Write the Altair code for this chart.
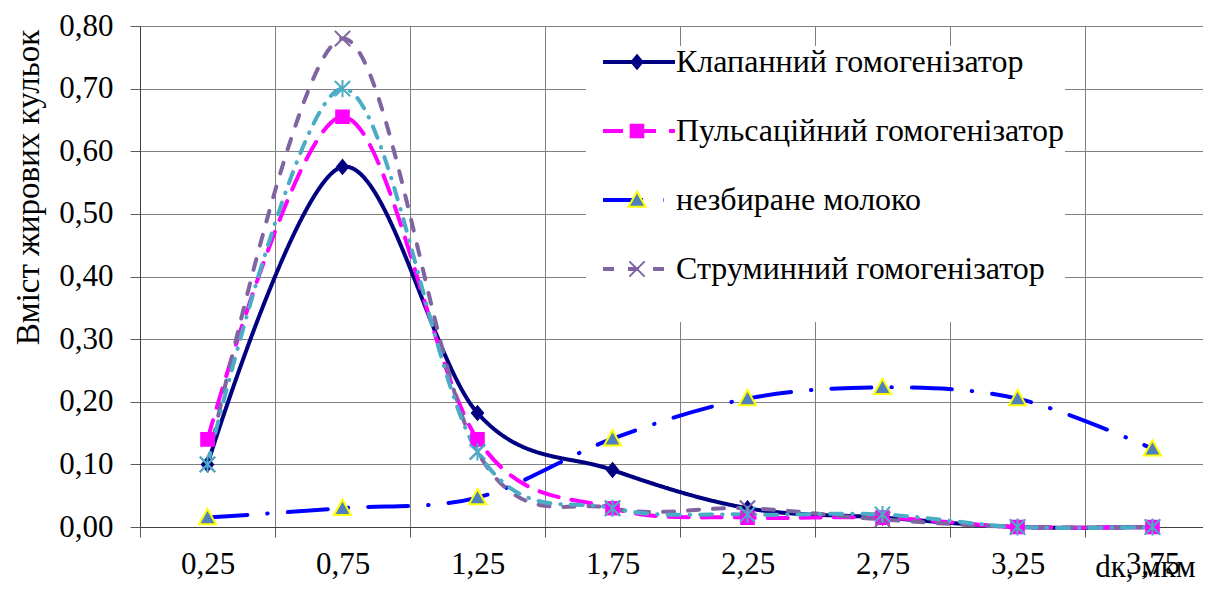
import altair as alt
import pandas as pd

# ---- data ----
d_vals = [0.25, 0.75, 1.25, 1.75, 2.25, 2.75, 3.25, 3.75]
klapannyi = [0.10, 0.575, 0.182, 0.091, 0.030, 0.015, 0.0, 0.0]
pulsatsiinyi = [0.14, 0.655, 0.14, 0.030, 0.015, 0.015, 0.0, 0.0]
moloko = [0.015, 0.030, 0.047, 0.141, 0.205, 0.223, 0.205, 0.125]
struminnyi = [0.10, 0.780, 0.120, 0.030, 0.030, 0.012, 0.0, 0.0]
riad5 = [0.10, 0.700, 0.120, 0.030, 0.020, 0.020, 0.0, 0.0]

names = ["Клапанний гомогенізатор", "Пульсаційний гомогенізатор",
         "незбиране молоко", "Струминний гомогенізатор", "Ряд5"]
marker_keys = ["m1", "m2", "m3", "m4", "m5"]
series = [klapannyi, pulsatsiinyi, moloko, struminnyi, riad5]

y_ticks = [0.0, 0.1, 0.2, 0.3, 0.4, 0.5, 0.6, 0.7, 0.8]
grid_x = [0.0, 0.5, 1.0, 1.5, 2.0, 2.5, 3.0, 3.5]

rows = []
for n, k, vals in zip(names, marker_keys, series):
    for d, v in zip(d_vals, vals):
        rows.append({"d": d, "v": v, "s": n, "m": k})
df = pd.DataFrame(rows)

# ---- styles ----
FONT = "Liberation Serif, Times New Roman, serif"
colors = ["#000080", "#FF00FF", "#0000FF", "#8064A2", "#4BACC6"]
dashes = [[1, 0], [20, 13], [40, 20, 0.5, 20], [11, 14], [12, 10, 0.5, 10]]
shapes = [
    "M0,-0.75L0.62,0L0,0.75L-0.62,0Z",
    "M-0.7,-0.7H0.7V0.7H-0.7Z",
    "M0,-0.95L0.95,0.75H-0.95Z",
    "M-0.85,-0.85L0.85,0.85M-0.85,0.85L0.85,-0.85",
    "M-0.85,-0.85L0.85,0.85M-0.85,0.85L0.85,-0.85M0,-0.95V0.95",
]
fills = ["#000080", "#FF00FF", "#4F81BD", "transparent", "transparent"]
strokes = ["#000080", "#FF00FF", "#FFFF00", "#8064A2", "#4BACC6"]

x_enc = alt.X(
    "d:Q",
    scale=alt.Scale(domain=[0, 3.937], nice=False, zero=False),
    axis=alt.Axis(
        values=grid_x,
        labelExpr="replace(format(datum.value + 0.25, '.2f'), '.', ',')",
        labelOffset=67.5,
        labelFlush=False,
        labelOverlap=False,
        labelBaseline="alphabetic",
        labelPadding=36,
        labelFont=FONT,
        labelFontSize=31,
        labelColor="black",
        tickSize=10,
        tickColor="#595959",
        domainColor="#404040",
        gridColor="#7f7f7f",
        gridOpacity=1,
        title="dк, мкм",
        titleFont=FONT,
        titleFontSize=31,
        titleFontWeight="normal",
        titleColor="black",
        titleX=1055,
        titleY=49,
        titleAlign="right",
        titleBaseline="alphabetic",
    ),
)
y_enc = alt.Y(
    "v:Q",
    scale=alt.Scale(domain=[0, 0.8], nice=False),
    axis=alt.Axis(
        values=y_ticks,
        labelExpr="replace(format(datum.value, '.2f'), '.', ',')",
        labelFont=FONT,
        labelFontSize=31,
        labelColor="black",
        labelPadding=17,
        labelOverlap=False,
        labelFlush=False,
        tickSize=10,
        tickColor="#595959",
        domainColor="#404040",
        gridColor="#7f7f7f",
        gridOpacity=1,
        title="Вміст жирових кульок",
        titleFont=FONT,
        titleFontSize=33,
        titleFontWeight="normal",
        titleColor="black",
        titleAngle=270,
        titleX=-112,
        titleY=161,
        titleAlign="center",
        titleBaseline="middle",
    ),
)

# invisible spacer title that widens/lengthens the white legend box
spacer = "\u00a0" * 79

leg_lines = alt.Legend(
    values=names[:4], orient="none", legendX=446, legendY=20,
    symbolType="M-3,0H3", symbolSize=576, symbolStrokeWidth=4, symbolOffset=37,
    labelFont=FONT, labelFontSize=32, labelColor="black", labelOffset=21,
    labelLimit=800, rowPadding=37, padding=0, fillColor="white",
    title=spacer, titleOrient="bottom", titleFont=FONT, titleFontSize=30,
    titleLimit=2000, titlePadding=7, titleAnchor="start",
)
leg_marks = alt.Legend(
    values=marker_keys[:4], orient="none", legendX=481, legendY=20,
    symbolSize=324, symbolStrokeWidth=2,
    labelFont=FONT, labelFontSize=32, labelExpr="'\u00a0'", labelOffset=3,
    labelLimit=800, rowPadding=37, padding=0, title=None,
)

base = alt.Chart(df)

lines = base.mark_line(interpolate="cardinal", strokeWidth=4, strokeCap="round").encode(
    x=x_enc, y=y_enc,
    color=alt.Color("s:N", scale=alt.Scale(domain=names, range=colors), legend=leg_lines),
    strokeDash=alt.StrokeDash("s:N", scale=alt.Scale(domain=names, range=dashes), legend=leg_lines),
)

points = base.mark_point(filled=True, size=324, strokeWidth=2, opacity=1).encode(
    x=x_enc, y=y_enc,
    shape=alt.Shape("m:N", scale=alt.Scale(domain=marker_keys, range=shapes), legend=leg_marks),
    fill=alt.Fill("m:N", scale=alt.Scale(domain=marker_keys, range=fills), legend=leg_marks),
    stroke=alt.Stroke("m:N", scale=alt.Scale(domain=marker_keys, range=strokes), legend=leg_marks),
)

chart = (
    alt.layer(lines, points)
    .properties(
        width=1063, height=501,
        autosize=alt.AutoSizeParams(type="none"),
        padding={"left": 132, "top": 18, "right": 0, "bottom": 55},
        background="white",
    )
    .configure_view(stroke=None)
)

chart.save("out.html", embed_options={"renderer": "svg", "actions": False})
